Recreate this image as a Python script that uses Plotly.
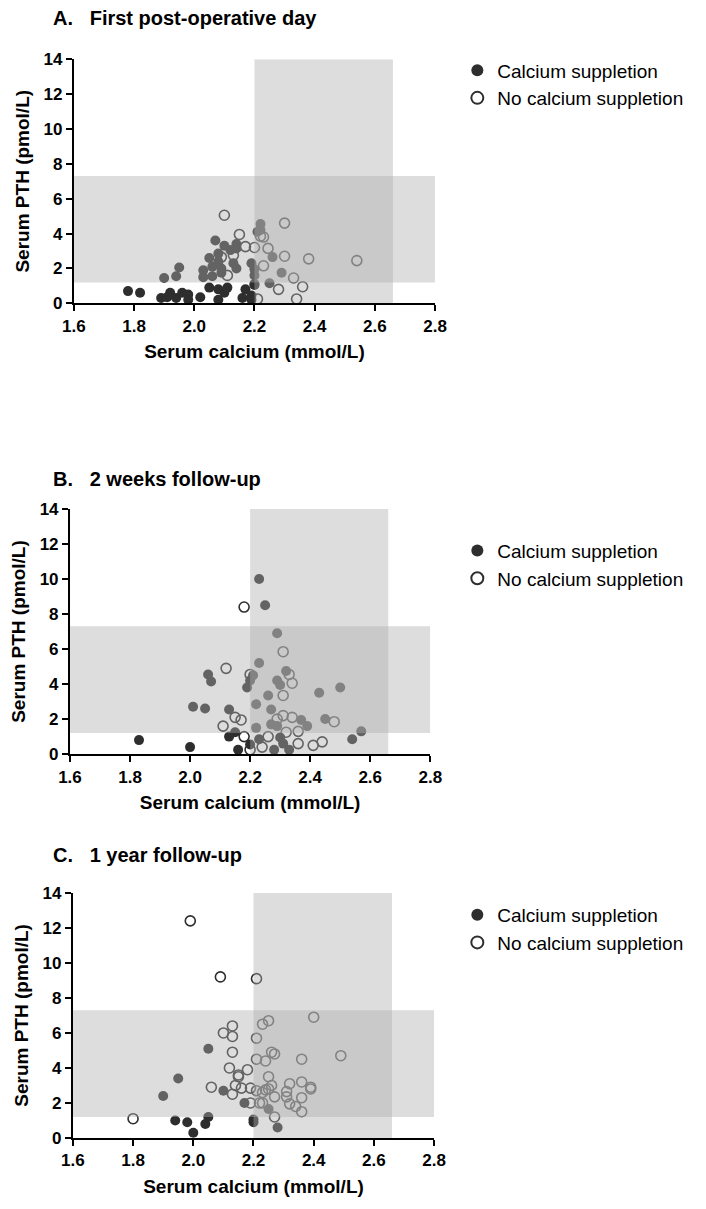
import plotly.graph_objects as go

# ---------------------------------------------------------------------------
# Data: serum calcium (mmol/L) vs serum PTH (pmol/L)
# ---------------------------------------------------------------------------
# A. First post-operative day
a_cal_x = [1.78, 1.82, 1.89, 1.92, 1.94, 1.96, 1.98, 1.98, 1.91, 2.02, 2.05, 2.08,
           2.08, 2.10, 2.11, 2.16, 2.17, 2.19, 2.20, 2.19, 2.20, 2.25,
           1.90, 1.94, 1.95, 2.03, 2.03, 2.06, 2.06, 2.07, 2.08, 2.08, 2.09, 2.09,
           2.12, 2.14, 2.14, 2.13, 2.14, 2.19, 2.20, 2.20, 2.21, 2.22, 2.22, 2.26,
           2.29, 2.10, 2.05]
a_cal_y = [0.7, 0.6, 0.3, 0.6, 0.3, 0.6, 0.5, 0.2, 0.35, 0.35, 0.9, 0.8,
           0.2, 0.6, 0.9, 0.3, 0.8, 0.2, 1.05, 0.45, 1.1, 1.15,
           1.45, 1.55, 2.05, 1.9, 1.5, 1.55, 2.1, 3.6, 2.85, 2.4, 2.0, 1.75,
           3.05, 3.15, 3.4, 2.3, 2.0, 2.3, 1.95, 1.6, 4.1, 4.55, 4.2, 2.65,
           1.75, 3.3, 2.6]
a_nocal_x = [2.10, 2.15, 2.17, 2.20, 2.22, 2.23, 2.245, 2.30, 2.30, 2.23, 2.38,
             2.54, 2.33, 2.36, 2.28, 2.34, 2.21, 2.11, 2.09, 2.13]
a_nocal_y = [5.05, 3.95, 3.25, 3.2, 3.85, 3.8, 3.15, 4.6, 2.7, 2.15, 2.55,
             2.45, 1.45, 0.95, 0.8, 0.25, 0.25, 1.6, 2.65, 2.75]

# B. 2 weeks follow-up
b_cal_x = [2.23, 2.25, 2.29, 2.23, 2.06, 2.07, 2.21, 2.20, 2.19, 2.32, 2.29, 2.30,
           2.26, 2.43, 2.50, 2.22, 2.27, 2.01, 2.05, 2.13, 2.37, 2.39, 2.45, 2.27,
           2.29, 2.22, 2.15, 2.13, 2.20, 2.16, 2.23, 2.28, 2.30, 2.31, 2.33, 1.83,
           2.00, 2.54, 2.57]
b_cal_y = [10.0, 8.5, 6.9, 5.2, 4.55, 4.15, 4.5, 4.2, 3.8, 4.75, 4.2, 3.95,
           3.35, 3.5, 3.8, 2.85, 2.55, 2.7, 2.6, 2.55, 1.95, 1.6, 2.0, 1.7,
           1.6, 1.5, 1.25, 1.0, 0.55, 0.25, 0.85, 0.25, 0.95, 0.6, 0.25, 0.8,
           0.4, 0.85, 1.3]
b_nocal_x = [2.18, 2.31, 2.12, 2.20, 2.33, 2.34, 2.31, 2.15, 2.17, 2.11, 2.31, 2.34,
             2.29, 2.18, 2.20, 2.26, 2.24, 2.32, 2.36, 2.36, 2.41, 2.44, 2.48]
b_nocal_y = [8.4, 5.85, 4.9, 4.55, 4.55, 4.05, 3.35, 2.1, 1.95, 1.6, 2.2, 2.1,
             2.0, 1.0, 0.25, 1.0, 0.4, 1.25, 1.3, 0.6, 0.5, 0.7, 1.85]

# C. 1 year follow-up
c_cal_x = [1.94, 1.98, 2.00, 2.04, 2.05, 1.90, 1.95, 2.05, 2.10, 2.17, 2.20, 2.20,
           2.25, 2.28]
c_cal_y = [1.0, 0.9, 0.3, 0.8, 1.2, 2.4, 3.4, 5.1, 2.7, 2.0, 1.05, 0.9,
           1.65, 0.6]
c_nocal_x = [1.80, 1.99, 2.09, 2.21, 2.06, 2.13, 2.13, 2.10, 2.13, 2.13, 2.12, 2.15,
             2.15, 2.18, 2.14, 2.16, 2.19, 2.19, 2.21, 2.23, 2.25, 2.21, 2.24, 2.26,
             2.27, 2.25, 2.26, 2.21, 2.23, 2.24, 2.25, 2.27, 2.22, 2.27, 2.40, 2.49,
             2.36, 2.32, 2.36, 2.39, 2.39, 2.31, 2.31, 2.36, 2.32, 2.34, 2.36, 2.23]
c_nocal_y = [1.1, 12.4, 9.2, 9.1, 2.9, 2.5, 6.4, 6.0, 5.8, 4.9, 4.0, 3.6,
             3.5, 3.9, 3.0, 2.85, 2.85, 2.0, 5.7, 6.5, 6.7, 4.5, 4.4, 4.9,
             4.8, 3.5, 3.0, 2.7, 2.6, 2.75, 2.8, 2.35, 2.0, 1.2, 6.9, 4.7,
             4.5, 3.1, 3.2, 2.9, 2.8, 2.65, 2.35, 2.3, 1.95, 1.8, 1.5, 2.0]

panel_titles = ["A.\u00a0\u00a0\u00a0First post-operative day",
                "B.\u00a0\u00a0\u00a02 weeks follow-up",
                "C.\u00a0\u00a0\u00a01 year follow-up"]
series_names = ["Calcium suppletion", "No calcium suppletion"]
x_tick_vals = [1.6, 1.8, 2.0, 2.2, 2.4, 2.6, 2.8]
y_tick_vals = [0, 2, 4, 6, 8, 10, 12, 14]

# Reference ranges (normal calcium and normal PTH)
ca_ref = (2.20, 2.66)
pth_ref = (1.2, 7.3)

# ---------------------------------------------------------------------------
W, H = 706, 1209
FONT = "Liberation Sans, Arial, sans-serif"
INK = "#2e2e2e"

# plot-area boxes in pixels: (left, right, top, bottom)
boxes = [(64, 438, 51, 299), (60, 433, 508, 757), (63, 437, 898, 1147)]
title_y = [9, 477, 860]
legend_top = [43, 531, 901]

panels = [
    (a_cal_x, a_cal_y, a_nocal_x, a_nocal_y),
    (b_cal_x, b_cal_y, b_nocal_x, b_nocal_y),
    (c_cal_x, c_cal_y, c_nocal_x, c_nocal_y),
]

fig = go.Figure()
layout = dict(
    width=W, height=H,
    margin=dict(l=0, r=0, t=0, b=0),
    paper_bgcolor="white", plot_bgcolor="white",
    font=dict(family=FONT, color="black"),
    showlegend=True,
    annotations=[], shapes=[],
)

for i, ((cx, cy, nx, ny), (l, r, t, b)) in enumerate(zip(panels, boxes)):
    n = "" if i == 0 else str(i + 1)
    xa, ya = "x" + n, "y" + n
    leg = "legend" + n

    fig.add_trace(go.Scatter(
        x=cx, y=cy, mode="markers", name=series_names[0],
        xaxis=xa, yaxis=ya, legend=leg, cliponaxis=False,
        marker=dict(symbol="circle", size=10, color=INK, line=dict(width=0)),
    ))
    fig.add_trace(go.Scatter(
        x=nx, y=ny, mode="markers", name=series_names[1],
        xaxis=xa, yaxis=ya, legend=leg, cliponaxis=False,
        marker=dict(symbol="circle-open", size=10, color=INK, line=dict(width=1.6)),
    ))

    common = dict(
        showline=True, linewidth=2, linecolor="black",
        ticks="outside", ticklen=6, tickwidth=2, tickcolor="black",
        showgrid=False, zeroline=False,
        tickfont=dict(family=FONT, size=17, weight="bold", color="black"),
    )
    layout["xaxis" + n] = dict(
        common, domain=[l / W, r / W], anchor=ya, range=[1.6, 2.8],
        tickvals=x_tick_vals, tickformat=".1f",
        title=dict(text="Serum calcium (mmol/L)", standoff=10,
                   font=dict(family=FONT, size=19, weight="bold", color="black")),
    )
    layout["yaxis" + n] = dict(
        common, domain=[1 - b / H, 1 - t / H], anchor=xa, range=[0, 14],
        tickvals=y_tick_vals,
        title=dict(text="Serum PTH (pmol/L)", standoff=9,
                   font=dict(family=FONT, size=19, weight="bold", color="black")),
    )

    # translucent reference bands drawn over the markers
    band = dict(type="rect", xref=xa, yref=ya, layer="above",
                fillcolor="rgba(173,173,173,0.42)", line=dict(width=0))
    layout["shapes"].append(dict(band, x0=1.6, x1=2.8, y0=pth_ref[0], y1=pth_ref[1]))
    layout["shapes"].append(dict(band, x0=ca_ref[0], x1=ca_ref[1], y0=0, y1=14))

    layout["annotations"].append(dict(
        text=panel_titles[i], xref="paper", yref="paper",
        x=40 / W, y=1 - title_y[i] / H, xanchor="left", yanchor="middle",
        showarrow=False,
        font=dict(family=FONT, size=20, weight="bold", color="black"),
    ))

    layout[leg] = dict(
        x=461 / W, y=1 - legend_top[i] / H, xanchor="left", yanchor="top",
        bgcolor="rgba(0,0,0,0)", borderwidth=0,
        font=dict(family=FONT, size=19, color="black"),
        tracegroupgap=0, itemsizing="constant",
    )

fig.update_layout(**layout)
fig.write_html("out.html")
